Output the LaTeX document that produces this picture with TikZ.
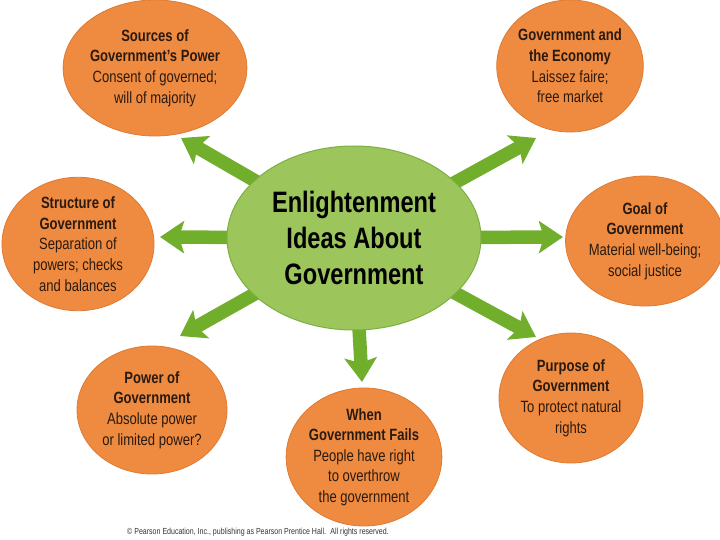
\documentclass[tikz,border=0pt]{standalone}
\usepackage{fontspec}
\setmainfont{Liberation Sans}[FakeStretch=0.8]
\usetikzlibrary{shapes.geometric,arrows.meta,backgrounds}
\definecolor{orangefill}{HTML}{EF8B40}
\definecolor{orangeedge}{HTML}{DD7A33}
\definecolor{greenfill}{HTML}{9CC65B}
\definecolor{greenedge}{HTML}{7DAE43}
\definecolor{arrowgreen}{HTML}{71AE2C}
\definecolor{textdark}{HTML}{2A1A10}
\tikzset{
  bubble/.style={ellipse, fill=orangefill, draw=orangeedge, line width=0.8pt, inner sep=0pt,
    align=center, text=textdark, font=\fontsize{16.3}{20.6}\selectfont},
  hub/.style={ellipse, fill=greenfill, draw=greenedge, line width=1pt, inner sep=0pt,
    align=center, text=black, font=\fontsize{29.5}{36}\selectfont\bfseries},
  bigarrow/.style={draw=arrowgreen, line width=13.5pt,
    -{Stealth[length=24pt,width=32pt,inset=5pt]}},
  credit/.style={font=\fontsize{8.8}{10}\selectfont, text=black!80, inner sep=0pt}
}
\begin{document}
\begin{tikzpicture}[x=1pt,y=-1pt]
\useasboundingbox (0,0) rectangle (720,540);
\node[hub, minimum width=254pt, minimum height=184pt] (c) at (354,238)
  {Enlightenment\\Ideas About\\Government};
\node[bubble, minimum width=146pt, minimum height=136pt] (src) at (155,68)
  {\textbf{Sources of}\\\textbf{Government’s Power}\\Consent of governed;\\will of majority};
\node[bubble, minimum width=146pt, minimum height=132pt] (eco) at (570,66)
  {\textbf{Government and}\\\textbf{the Economy}\\Laissez faire;\\free market};
\node[bubble, minimum width=152pt, minimum height=132pt] (str) at (78,244)
  {\textbf{Structure of}\\\textbf{Government}\\Separation of\\powers; checks\\and balances};
\node[bubble, minimum width=150pt, minimum height=130pt] (goal) at (645,241)
  {\textbf{Goal of}\\\textbf{Government}\\Material well-being;\\social justice};
\node[bubble, minimum width=150pt, minimum height=128pt] (pow) at (152,410)
  {\textbf{Power of}\\\textbf{Government}\\Absolute power\\or limited power?};
\node[bubble, minimum width=144pt, minimum height=128pt] (when) at (364,457)
  {\textbf{When}\\\textbf{Government Fails}\\People have right\\to overthrow\\the government};
\node[bubble, minimum width=144pt, minimum height=130pt] (purp) at (571,398)
  {\textbf{Purpose of}\\\textbf{Government}\\To protect natural\\rights};
\coordinate (tsrc) at (181,138);
\coordinate (tstr) at (160,237);
\coordinate (tpow) at (180,336);
\coordinate (twhen) at (362,382);
\coordinate (tpurp) at (536,337);
\coordinate (tgoal) at (563,237);
\coordinate (teco) at (536,138);
\begin{scope}[on background layer]
\foreach \t in {tsrc,tstr,tpow,twhen,tpurp,tgoal,teco}
  \draw[bigarrow] (c.center) -- (\t);
\end{scope}
\node[credit, anchor=west] (cr) at (127,532)
  {© Pearson Education, Inc., publishing as Pearson Prentice Hall.\enspace All rights reserved.};
\end{tikzpicture}
\end{document}
